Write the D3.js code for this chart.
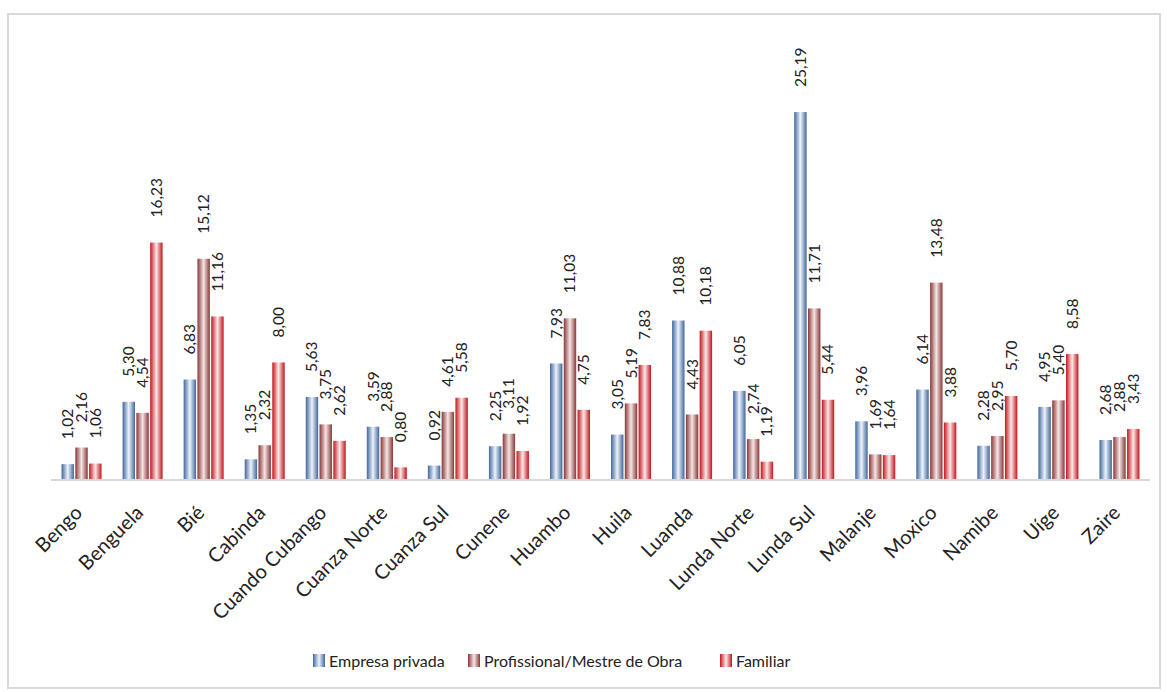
<!DOCTYPE html>
<html><head><meta charset="utf-8">
<script src="https://cdn.jsdelivr.net/npm/d3@7"></script>
<style>body{margin:0;background:#fff}svg{display:block}text{font-family:Lato,"Open Sans",sans-serif;fill:#222}</style>
</head><body><svg id="c" width="1167" height="692"></svg>
<script>
const categories = ["Bengo","Benguela","Bié","Cabinda","Cuando Cubango","Cuanza Norte","Cuanza Sul","Cunene","Huambo","Huila","Luanda","Lunda Norte","Lunda Sul","Malanje","Moxico","Namibe","Uíge","Zaire"];
const seriesNames = ["Empresa privada","Profissional/Mestre de Obra","Familiar"];
const empresa = [1.02,5.30,6.83,1.35,5.63,3.59,0.92,2.25,7.93,3.05,10.88,6.05,25.19,3.96,6.14,2.28,4.95,2.68];
const profissional = [2.16,4.54,15.12,2.32,3.75,2.88,4.61,3.11,11.03,5.19,4.43,2.74,11.71,1.69,13.48,2.95,5.40,2.88];
const familiar = [1.06,16.23,11.16,8.00,2.62,0.80,5.58,1.92,4.75,7.83,10.18,1.19,5.44,1.64,3.88,5.70,8.58,3.43];
const seriesValues = [empresa, profissional, familiar];

const svg = d3.select("#c");
const defs = svg.append("defs");
const grads = [
  {id:"g0", edge:"#3f679e", mid:"#eef3fa"},
  {id:"g1", edge:"#8a3636", mid:"#f5e6e6"},
  {id:"g2", edge:"#c4141b", mid:"#fbe9ea"}
];
grads.forEach(g=>{
  const lg = defs.append("linearGradient").attr("id",g.id).attr("x1","0").attr("x2","1").attr("y1","0").attr("y2","0");
  lg.append("stop").attr("offset","0").attr("stop-color",g.edge);
  lg.append("stop").attr("offset","0.5").attr("stop-color",g.mid);
  lg.append("stop").attr("offset","1").attr("stop-color",g.edge);
});

// frame
svg.append("rect").attr("x",8).attr("y",14).attr("width",1152).attr("height",674)
  .attr("fill","none").attr("stroke","#d9d9d9").attr("stroke-width",2);

const x = d3.scaleBand().domain(categories).range([51,1150]).padding(0);
const x1 = d3.scaleBand().domain(seriesNames).range([x.bandwidth()/2-20, x.bandwidth()/2+20]).paddingInner(0.1);
const y = d3.scaleLinear().domain([0,30]).range([479,42]);

const g = svg.append("g");
categories.forEach((c,i)=>{
  seriesNames.forEach((s,j)=>{
    const v = seriesValues[j][i];
    g.append("rect").attr("x",x(c)+x1(s)).attr("y",y(v)).attr("width",x1.bandwidth()).attr("height",y(0)-y(v))
      .attr("fill",`url(#g${j})`);
    const lx = x(c)+x1(s)+x1.bandwidth()/2;
    const ly = y(v)-25;
    g.append("text").attr("transform",`translate(${lx+5.5},${ly}) rotate(-90)`)
      .attr("text-anchor","start").style("font-size","15.5px").text(v.toFixed(2).replace(".",","));
  });
});

// baseline
svg.append("line").attr("x1",51).attr("x2",1150).attr("y1",y(0)+1).attr("y2",y(0)+1).attr("stroke","#d9d9d9").attr("stroke-width",2);

// category labels
categories.forEach(c=>{
  const cx = x(c)+x.bandwidth()/2;
  svg.append("text").attr("transform",`translate(${cx+2},${514}) rotate(-45)`)
    .attr("text-anchor","end").style("font-size","20px").text(c);
});

// legend
const legX = [313, 468, 720];
seriesNames.forEach((s,j)=>{
  svg.append("rect").attr("x",legX[j]).attr("y",654).attr("width",12).attr("height",13).attr("fill",`url(#g${j})`);
  svg.append("text").attr("x",legX[j]+16).attr("y",667).style("font-size","16px").text(s);
});
</script></body></html>
